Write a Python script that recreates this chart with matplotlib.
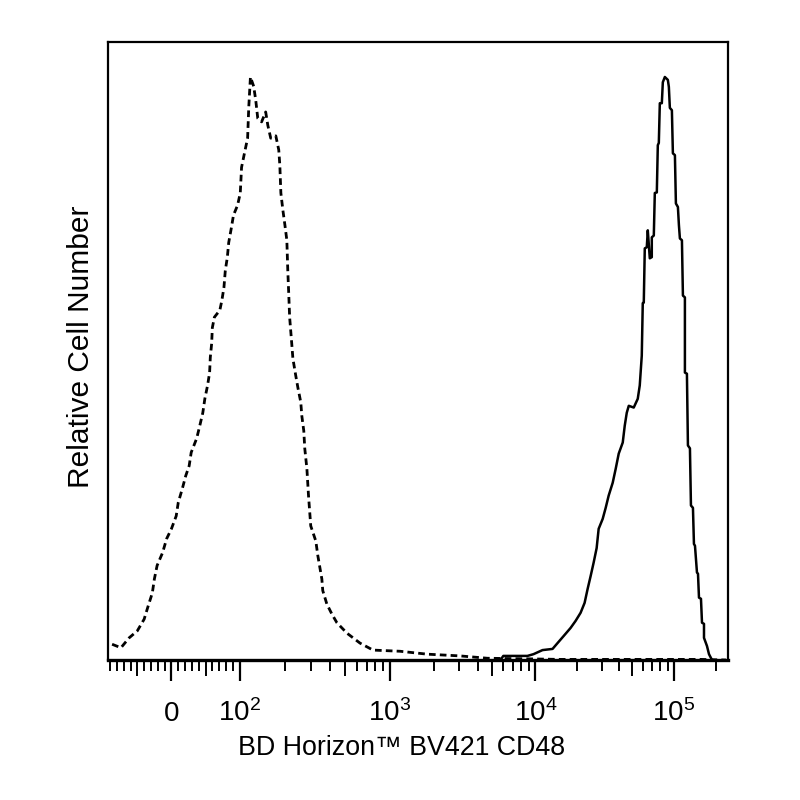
import numpy as np
import matplotlib
matplotlib.use('Agg')
import matplotlib.pyplot as plt

# ─────────────────────────────────────────────
# DATA — histogram outlines
# x = fluorescence intensity, y = % of modal peak
# ─────────────────────────────────────────────
ISO_X = [-87, -74, -62, -50, -40, -34, -28, -25, -21, -13, -7, 0, 7, 10, 16, 21,
         26, 29, 37, 41, 46, 49, 53, 56, 57, 59, 60, 63, 71, 74, 77, 79, 82, 84,
         88, 91, 97, 101, 102, 103, 108, 113, 115, 118, 124, 128, 132, 140, 149,
         154, 161, 174, 182, 185, 188, 194, 200, 206, 209, 212, 215, 222, 226,
         236, 244, 255, 259, 267, 271, 280, 287, 297, 321, 331, 352, 357, 380,
         410, 443, 517, 631, 770, 1170, 1800, 3040, 4670, 8800, 15200, 41300,
         157000, 238000]
ISO_Y = [2.7, 2.1, 3.8, 5.0, 7.0, 9.3, 11.5, 13.9, 16.2, 18.4, 20.8, 22.5, 24.7,
         27.0, 29.4, 31.6, 33.3, 35.6, 38.0, 39.9, 42.4, 44.8, 47.1, 49.3, 51.9,
         54.3, 57.0, 58.8, 60.0, 61.7, 63.9, 66.8, 69.1, 71.6, 74.2, 76.3, 78.0,
         80.1, 82.3, 84.5, 87.1, 89.5, 94.8, 100.0, 98.4, 96.0, 92.9, 92.3, 94.0,
         91.7, 89.5, 89.9, 87.5, 84.9, 80.1, 77.1, 74.6, 72.0, 66.8, 62.9, 58.8,
         54.3, 51.7, 48.8, 46.7, 44.2, 41.9, 39.3, 36.3, 32.8, 28.2, 23.0, 20.4,
         17.9, 13.9, 11.9, 9.6, 7.9, 6.4, 4.6, 2.9, 1.7, 1.5, 1.0, 0.7, 0.3, 0.2,
         0.1, 0.1, 0.1, 0.0]

CD48_X = [5740, 6010, 8800, 9690, 11240, 13280, 14430, 15960, 17930, 19480, 21180,
          22640, 23810, 25030, 26310, 27660, 28600, 30580, 32150, 33790, 36130,
          37980, 39940, 42700, 44150, 45650, 47200, 51270, 54810, 56670, 58600,
          59580, 60590, 61610, 63700, 64770, 66970, 69240, 69240, 71590, 72800,
          75270, 76530, 77820, 79130, 81810, 83190, 86020, 90440, 91960, 93510,
          96720, 98340, 101700, 103400, 106900, 108700, 110500, 114300, 116200,
          120100, 120100, 124200, 126300, 130600, 132800, 137300, 139600, 142000,
          146800, 149300, 151800, 156900, 159600, 165000, 165000, 173400, 179300,
          188500]
CD48_Y = [0.0, 0.7, 0.7, 1.0, 1.7, 1.9, 2.9, 4.1, 5.5, 6.7, 8.1, 9.8, 12.2, 14.4,
          16.7, 19.2, 22.5, 24.2, 26.1, 28.2, 30.4, 32.8, 35.4, 37.3, 40.2, 42.4,
          43.6, 43.3, 44.8, 47.1, 52.2, 61.2, 61.3, 70.6, 70.8, 73.7, 68.9, 69.1,
          72.5, 72.8, 80.1, 80.2, 88.3, 88.7, 95.5, 95.5, 99.1, 100.0, 99.5, 98.3,
          94.7, 94.3, 86.9, 86.6, 78.3, 77.7, 74.6, 72.3, 72.0, 62.5, 62.2, 49.3,
          49.1, 36.8, 36.3, 26.5, 26.1, 19.9, 19.6, 15.0, 14.8, 10.7, 10.5, 6.4,
          6.2, 3.8, 2.4, 1.0, 0.0]

MAJOR_TICKS = [0, 1e2, 1e3, 1e4, 1e5]
MAJOR_LABELS = ['0', r'$\mathregular{10^{2}}$', r'$\mathregular{10^{3}}$',
                r'$\mathregular{10^{4}}$', r'$\mathregular{10^{5}}$']
LIN_MINOR = [-90, -80, -70, -60, -50, -40, -30, -20, -10,
             10, 20, 30, 40, 50, 60, 70, 80, 90]
LOG_MINOR = [k * 10 ** n for n in (2, 3, 4) for k in range(2, 10)] + [2e5]
MID_TICKS = [-50, 50, 500, 5000, 50000]

# ─────────────────────────────────────────────
# Biexponential-like axis: linear to 100, log above
# ─────────────────────────────────────────────
U_KNOTS = [-10, 0, 1, 2, 3, 4, 10]
P_KNOTS = [-680, 0, 68, 218, 363, 501, 1329]


def _u(x):
    x = np.asarray(x, dtype=float)
    a = np.abs(x)
    return np.where(a <= 100, x / 100,
                    np.sign(x) * (1 + np.log10(np.maximum(a, 100) / 100)))


def _u_inv(u):
    u = np.asarray(u, dtype=float)
    a = np.abs(u)
    return np.where(a <= 1, u * 100,
                    np.sign(u) * 100 * 10 ** (np.maximum(a, 1) - 1))


def fwd(x):
    return np.interp(_u(x), U_KNOTS, P_KNOTS)


def inv(p):
    return _u_inv(np.interp(p, P_KNOTS, U_KNOTS))


plt.rcParams['font.family'] = ['Liberation Sans', 'DejaVu Sans']
plt.rcParams['mathtext.fontset'] = 'custom'
plt.rcParams['mathtext.rm'] = 'Liberation Sans'

fig = plt.figure(figsize=(8, 8), dpi=100)
fig.patch.set_facecolor('white')
ax = fig.add_axes([0.135, 0.175, 0.775, 0.7725])

ax.plot(ISO_X, ISO_Y, color='black', lw=2.0, ls=(0, (2.4, 1.5)))
ax.plot(CD48_X, CD48_Y, color='black', lw=1.8)

ax.set_xscale('function', functions=(fwd, inv))
ax.set_xlim(-93, 246000)
ax.set_ylim(0, 106)

for side in ['top', 'left', 'right']:
    ax.spines[side].set_linewidth(1.6)
ax.spines['bottom'].set_linewidth(2.4)

ax.set_yticks([])
ax.set_xticks(MAJOR_TICKS)
ax.set_xticklabels(MAJOR_LABELS)
ax.set_xticks(LIN_MINOR + LOG_MINOR, minor=True)
ax.tick_params(axis='x', which='major', direction='out', length=15, width=1.6,
               pad=29, labelsize=20)
ax.tick_params(axis='x', which='minor', direction='out', length=8, width=1.4)
for lab in ax.get_xticklabels():
    lab.set_va('baseline')
for t in ax.xaxis.get_minor_ticks():
    if any(abs(t.get_loc() - m) < 1e-6 for m in MID_TICKS):
        t.tick1line.set_markersize(11.5)

ax.set_xlabel('BD Horizon™ BV421 CD48', fontsize=19.3, va='baseline')
ax.xaxis.set_label_coords(0.473, -0.154)
ax.set_ylabel('Relative Cell Number', fontsize=21.5, va='center', ha='center')
ax.yaxis.set_label_coords(-0.044, 0.506)

plt.savefig('out.png', dpi=100, facecolor='white')
plt.close()
